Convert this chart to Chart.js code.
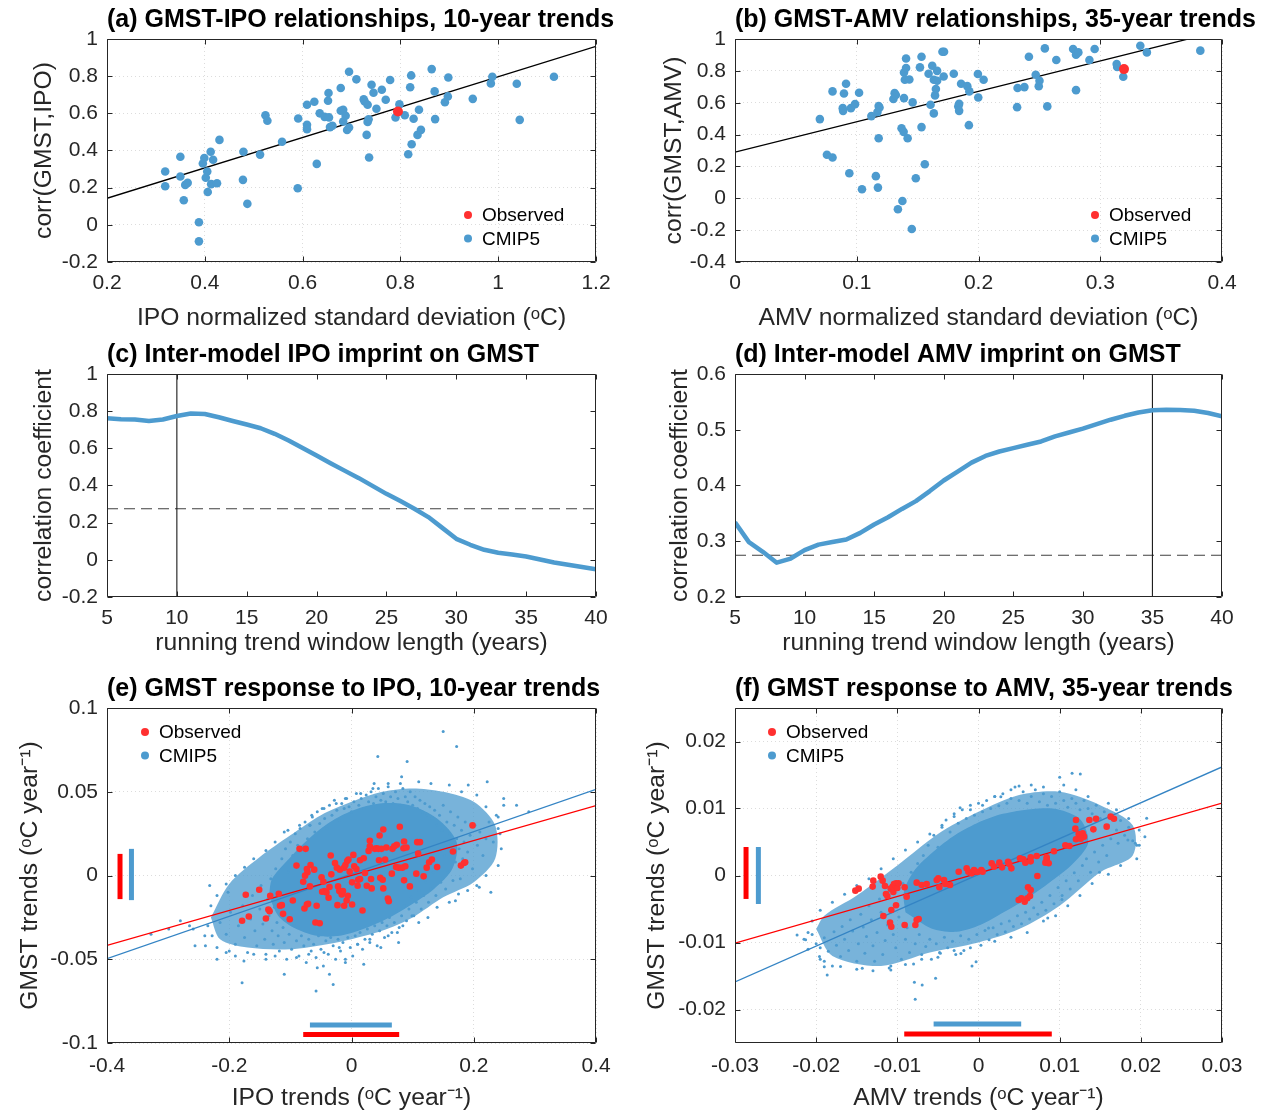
<!DOCTYPE html>
<html><head><meta charset="utf-8">
<script src="https://cdn.jsdelivr.net/npm/chart.js@4.4.1/dist/chart.umd.min.js"></script>
<style>
html,body{margin:0;padding:0;background:#fff;}
body{position:relative;width:1271px;height:1116px;overflow:hidden;}
</style>
</head><body>
<script>
// ===================== DATA =====================
// (a) GMST-IPO relationships, 10-year trends: [IPO normalized std, corr(GMST,IPO)]
const ipoStdCorrModels = [[0.319,0.287],[0.319,0.208],[0.350,0.366],[0.350,0.260],[0.357,0.132],[0.360,0.215],[0.365,0.226],[0.388,0.014],[0.388,-0.089],[0.396,0.330],[0.399,0.360],[0.402,0.253],[0.405,0.287],[0.406,0.177],[0.412,0.393],[0.413,0.219],[0.417,0.350],[0.425,0.224],[0.430,0.457],[0.479,0.393],[0.478,0.242],[0.487,0.113],[0.513,0.378],[0.524,0.590],[0.528,0.560],[0.558,0.447],[0.590,0.197],[0.591,0.572],[0.609,0.646],[0.609,0.538],[0.609,0.515],[0.624,0.662],[0.629,0.328],[0.635,0.600],[0.645,0.581],[0.652,0.668],[0.653,0.709],[0.654,0.578],[0.656,0.526],[0.661,0.533],[0.678,0.736],[0.678,0.614],[0.683,0.619],[0.683,0.556],[0.688,0.587],[0.691,0.510],[0.695,0.524],[0.695,0.824],[0.710,0.783],[0.725,0.675],[0.727,0.664],[0.731,0.484],[0.733,0.554],[0.735,0.568],[0.733,0.646],[0.736,0.362],[0.741,0.754],[0.745,0.711],[0.751,0.625],[0.762,0.727],[0.770,0.673],[0.779,0.779],[0.790,0.578],[0.798,0.648],[0.809,0.590],[0.816,0.380],[0.820,0.740],[0.822,0.804],[0.823,0.434],[0.827,0.571],[0.835,0.484],[0.838,0.619],[0.842,0.511],[0.864,0.838],[0.870,0.718],[0.871,0.569],[0.891,0.660],[0.897,0.691],[0.898,0.793],[0.948,0.678],[0.985,0.761],[0.988,0.797],[1.038,0.759],[1.044,0.565],[1.114,0.797]];
const ipoStdCorrObserved = [[0.795,0.610]];
const ipoStdFit = [[0.2,0.143],[1.2,0.960]];

// (b) GMST-AMV relationships, 35-year trends
const amvStdCorrModels = [[0.0697,0.497],[0.0755,0.273],[0.0801,0.256],[0.0801,0.671],[0.0885,0.566],[0.0888,0.549],[0.0895,0.658],[0.0912,0.719],[0.0939,0.157],[0.0952,0.566],[0.0986,0.591],[0.1019,0.663],[0.1043,0.057],[0.112,0.516],[0.1157,0.139],[0.117,0.541],[0.118,0.579],[0.118,0.377],[0.1174,0.067],[0.1187,0.570],[0.1301,0.623],[0.1311,0.660],[0.1321,0.648],[0.1338,-0.069],[0.1368,0.440],[0.1375,-0.017],[0.1388,0.629],[0.1385,0.417],[0.1388,0.790],[0.1395,0.744],[0.1405,0.878],[0.1405,0.818],[0.1418,0.377],[0.1432,0.746],[0.1452,-0.193],[0.1459,0.602],[0.1485,0.126],[0.1519,0.822],[0.1532,0.889],[0.1532,0.447],[0.1559,0.214],[0.159,0.782],[0.1606,0.587],[0.162,0.832],[0.1633,0.744],[0.1633,0.533],[0.1643,0.646],[0.165,0.686],[0.166,0.800],[0.166,0.738],[0.1704,0.920],[0.1714,0.765],[0.1717,0.920],[0.1797,0.782],[0.1834,0.577],[0.1841,0.593],[0.1841,0.549],[0.1857,0.719],[0.1908,0.704],[0.1921,0.459],[0.1925,0.671],[0.1995,0.780],[0.1998,0.633],[0.2042,0.744],[0.2317,0.572],[0.2321,0.692],[0.2377,0.698],[0.2414,0.889],[0.247,0.776],[0.2495,0.704],[0.2501,0.738],[0.2545,0.941],[0.2565,0.577],[0.2639,0.868],[0.2777,0.937],[0.2801,0.679],[0.2801,0.901],[0.282,0.916],[0.2911,0.868],[0.2954,0.937],[0.3135,0.843],[0.3139,0.824],[0.3189,0.763],[0.3329,0.958],[0.3383,0.916],[0.3822,0.927]];
const amvStdCorrObserved = [[0.3195,0.811]];
const amvStdFit = [[0,0.290],[0.4,1.053]];

// (c), (d) inter-model correlation vs running trend window length
const windowLengths = [5,6,7,8,9,10,11,12,13,14,15,16,17,18,19,20,21,22,23,24,25,26,27,28,29,30,31,32,33,34,35,36,37,38,39,40];
const ipoImprint = [0.762,0.756,0.755,0.747,0.755,0.774,0.787,0.785,0.767,0.747,0.728,0.708,0.678,0.642,0.602,0.561,0.520,0.480,0.441,0.398,0.355,0.316,0.275,0.230,0.172,0.113,0.081,0.054,0.038,0.029,0.018,0.002,-0.014,-0.026,-0.039,-0.051];
const amvImprint = [0.334,0.2985,0.281,0.2615,0.269,0.284,0.294,0.2985,0.303,0.315,0.330,0.343,0.358,0.372,0.390,0.409,0.425,0.441,0.453,0.461,0.467,0.473,0.479,0.488,0.495,0.502,0.510,0.518,0.525,0.531,0.535,0.536,0.5355,0.534,0.530,0.524];
const significanceLevel = 0.275;
const ipoChosenWindow = 10;
const amvChosenWindow = 35;

// (e) GMST response to IPO, 10-year trends: [IPO trend, GMST trend]
const ipoTrendObserved = [[-0.179,-0.027],[-0.173,-0.0115],[-0.168,-0.0245],[-0.151,-0.0085],[-0.140,-0.0257],[-0.136,-0.0203],[-0.134,-0.0213],[-0.133,-0.0121],[-0.119,-0.0109],[-0.117,-0.0181],[-0.114,-0.0177],[-0.112,-0.0229],[-0.101,-0.0261],[-0.096,-0.0149],[-0.090,0.0059],[-0.085,0.0159],[-0.079,-0.0037],[-0.077,-0.0197],[-0.075,0.0159],[-0.073,-0.0173],[-0.071,-0.0169],[-0.072,0.0019],[-0.076,-0.0001],[-0.068,-0.0065],[-0.067,0.0063],[-0.073,0.0039],[-0.061,0.0035],[-0.059,-0.0281],[-0.057,-0.0181],[-0.052,-0.0285],[-0.049,-0.0011],[-0.048,-0.0097],[-0.046,-0.0037],[-0.044,-0.0093],[-0.041,-0.0101],[-0.0375,-0.0133],[-0.036,-0.0069],[-0.034,0.0119],[-0.033,0.0007],[-0.027,0.0075],[-0.024,0.0047],[-0.023,-0.0177],[-0.022,-0.0065],[-0.020,-0.0093],[-0.019,0.0035],[-0.016,-0.0113],[-0.014,-0.0093],[-0.012,0.0047],[-0.012,-0.0181],[-0.010,0.0063],[-0.008,-0.0149],[-0.007,0.0087],[-0.006,-0.0121],[-0.005,0.0095],[-0.003,0.0023],[0.001,-0.0173],[0.003,0.0123],[0.001,-0.0041],[0.0045,0.0055],[0.008,0.0039],[0.010,-0.0061],[0.011,-0.0025],[0.014,0.0091],[0.014,-0.0021],[0.018,-0.0209],[0.020,0.0103],[0.022,0.0015],[0.025,-0.0061],[0.028,0.0147],[0.030,0.0207],[0.030,0.0175],[0.032,-0.0021],[0.033,-0.0077],[0.038,0.0159],[0.041,0.0163],[0.044,0.0159],[0.045,0.0091],[0.046,0.0239],[0.047,-0.0013],[0.049,0.0159],[0.051,-0.0025],[0.052,0.0275],[0.052,-0.0077],[0.055,0.0095],[0.057,0.0167],[0.0595,-0.0137],[0.061,-0.0153],[0.066,0.0011],[0.067,0.0159],[0.070,0.0175],[0.073,0.0051],[0.074,0.0183],[0.077,0.0047],[0.079,0.0291],[0.083,0.0047],[0.085,0.0163],[0.086,-0.0029],[0.086,0.0203],[0.088,0.0055],[0.090,0.0167],[0.0955,-0.0065],[0.106,0.0011],[0.1075,0.0199],[0.109,0.0131],[0.112,0.0199],[0.118,-0.0005],[0.123,0.0047],[0.127,0.0079],[0.1315,0.0095],[0.140,0.0051],[0.166,0.0143],[0.179,0.0059],[0.184,0.0075],[0.186,0.0079],[0.198,0.0299]];
const ipoTrendModels = [[-0.215,-0.028],[-0.205,-0.035],[-0.198,-0.022],[-0.19,-0.041],[-0.185,-0.03],[-0.178,-0.018],[-0.175,-0.037],[-0.17,-0.046],[-0.165,-0.026],[-0.162,-0.012],[-0.158,-0.033],[-0.155,-0.042],[-0.15,-0.02],[-0.148,-0.006],[-0.145,-0.029],[-0.142,-0.038],[-0.14,-0.047],[-0.137,-0.014],[-0.135,-0.024],[-0.132,-0.002],[-0.13,-0.033],[-0.128,-0.041],[-0.126,-0.019],[-0.124,0.004],[-0.122,-0.028],[-0.12,-0.036],[-0.118,-0.045],[-0.116,-0.01],[-0.114,0.01],[-0.112,-0.031],[-0.11,-0.04],[-0.108,0.016],[-0.106,-0.05],[-0.104,0.002],[-0.102,-0.035],[-0.1,0.02],[-0.098,-0.044],[-0.096,0.012],[-0.094,-0.03],[-0.092,0.025],[-0.09,-0.039],[-0.088,0.018],[-0.086,-0.048],[-0.084,0.028],[-0.082,-0.036],[-0.078,-0.042],[-0.076,0.032],[-0.074,-0.052],[-0.072,0.022],[-0.07,-0.038],[-0.068,0.03],[-0.066,-0.045],[-0.064,0.035],[-0.062,-0.041],[-0.06,0.026],[-0.058,-0.049],[-0.056,0.038],[-0.054,-0.036],[-0.052,0.031],[-0.05,-0.044],[-0.048,0.04],[-0.046,-0.054],[-0.044,0.034],[-0.042,-0.039],[-0.04,0.028],[-0.038,-0.047],[-0.036,0.042],[-0.034,-0.037],[-0.032,0.036],[-0.03,-0.042],[-0.028,0.045],[-0.026,-0.05],[-0.024,0.039],[-0.022,-0.038],[-0.02,0.033],[-0.018,-0.045],[-0.016,0.043],[-0.014,-0.04],[-0.012,0.04],[-0.01,-0.052],[-0.008,0.046],[-0.006,-0.037],[-0.004,0.041],[-0.002,-0.043],[0,0.038],[0.002,-0.048],[0.004,0.044],[0.006,-0.036],[0.008,0.049],[0.01,-0.041],[0.012,0.042],[0.014,-0.034],[0.016,0.046],[0.018,-0.044],[0.02,0.04],[0.022,-0.038],[0.024,0.048],[0.026,-0.032],[0.028,0.044],[0.03,-0.04],[0.032,0.05],[0.034,-0.035],[0.036,0.043],[0.038,-0.03],[0.04,0.047],[0.042,-0.042],[0.044,0.052],[0.046,-0.033],[0.048,0.045],[0.05,-0.028],[0.052,0.049],[0.054,-0.037],[0.056,0.044],[0.058,-0.03],[0.06,0.053],[0.062,-0.025],[0.064,0.047],[0.066,-0.034],[0.068,0.043],[0.07,-0.028],[0.072,0.05],[0.074,-0.021],[0.076,0.046],[0.078,-0.031],[0.08,0.042],[0.082,-0.024],[0.084,0.052],[0.086,-0.018],[0.088,0.047],[0.09,-0.027],[0.092,0.044],[0.094,-0.02],[0.096,0.05],[0.098,-0.013],[0.1,0.042],[0.102,-0.024],[0.104,0.047],[0.106,-0.016],[0.108,0.04],[0.11,-0.009],[0.112,0.045],[0.114,-0.02],[0.116,0.038],[0.118,-0.012],[0.12,0.043],[0.122,-0.004],[0.124,0.036],[0.126,-0.016],[0.128,0.041],[0.13,-0.008],[0.132,0.034],[0.134,0.002],[0.136,0.039],[0.138,-0.012],[0.14,0.03],[0.142,0.006],[0.144,0.036],[0.146,-0.004],[0.148,0.027],[0.15,0.042],[0.152,0.012],[0.154,-0.008],[0.156,0.032],[0.158,0.002],[0.16,0.025],[0.162,0.038],[0.164,0.014],[0.166,-0.003],[0.168,0.03],[0.17,0.008],[0.172,0.022],[0.174,0.035],[0.176,0.016],[0.178,-0.002],[0.18,0.027],[0.182,0.01],[0.184,0.02],[0.186,0.032],[0.19,0.014],[0.194,0.024],[0.198,0.004],[0.202,0.03],[0.206,0.018],[0.21,0.026],[0.215,0.012],[0.22,0.022],[0.225,0.032],[0.232,0.02],[0.24,0.028],
[-0.235,-0.03],[-0.228,-0.036],[-0.22,-0.043],[-0.205,-0.046],[-0.19,-0.048],[-0.16,-0.047],[-0.14,-0.05],[-0.125,-0.048],[-0.09,-0.049],[-0.07,-0.047],[-0.045,-0.046],[-0.02,-0.043],[0.01,-0.041],[0.03,-0.038],[0.06,-0.036],[0.075,-0.034],[0.11,-0.028],[0.125,-0.025],[0.14,-0.019],[0.16,-0.016],[0.175,-0.011],[0.19,-0.009],[0.205,-0.006],[0.22,0.0],[0.24,0.006],[0.245,0.016],[0.243,0.025],[0.24,0.035],[0.22,0.041],[0.205,0.048],[0.18,0.05],[0.16,0.054],[0.13,0.055],[0.11,0.056],[0.08,0.055],[0.06,0.055],[0.035,0.052],[0.015,0.049],[-0.01,0.046],[-0.025,0.043],[-0.045,0.04],[-0.065,0.036],[-0.085,0.03],[-0.11,0.026],[-0.125,0.02],[-0.14,0.015],[-0.16,0.01],[-0.175,0.005],[-0.19,0.0],[-0.205,-0.005],[-0.22,-0.012],[-0.23,-0.018],
[0.150,0.086],[0.172,0.077],[0.043,0.071],[0.091,0.068],[0.082,0.059],[0.037,0.055],[0.191,0.054],[0.222,0.056],[0.249,0.046],[0.27,0.042],[0.249,0.042],[0.29,0.038],[0.237,0.036],[0.209,-0.007],[0.228,-0.01],[0.17,-0.015],[-0.232,-0.006],[-0.202,-0.01],[-0.259,-0.032],[-0.239,-0.042],[-0.256,-0.042],[-0.176,-0.051],[-0.179,-0.064],[-0.11,-0.059],[-0.058,-0.069],[-0.036,-0.059],[-0.03,-0.065],[-0.01,-0.05],[0.02,-0.053],[-0.056,-0.055],[0.077,-0.04],[0.048,-0.043],[-0.104,0.027],[-0.068,0.03],[0.099,-0.024],[0.084,-0.03],[-0.299,-0.032],[-0.328,-0.035],[-0.28,-0.027],[-0.22,-0.05],[-0.2,-0.045],[-0.24,-0.036],[-0.265,-0.03]];
// outlines of the saturated (overlapping-dot) core and the moderately dense halo of the CMIP5 cloud
const ipoTrendModelCore = [[-0.135,-0.012],[-0.12,-0.024],[-0.095,-0.031],[-0.057,-0.036],[-0.019,-0.036],[0.019,-0.032],[0.057,-0.026],[0.095,-0.018],[0.135,-0.008],[0.165,0.004],[0.172,0.02],[0.14,0.034],[0.095,0.042],[0.046,0.043],[0.003,0.039],[-0.035,0.032],[-0.07,0.022],[-0.105,0.009],[-0.13,-0.002],[-0.135,-0.012]];
const ipoTrendModelHalo = [[-0.23,-0.025],[-0.215,-0.038],[-0.17,-0.043],[-0.1,-0.044],[-0.04,-0.041],[0,-0.038],[0.05,-0.033],[0.1,-0.025],[0.15,-0.013],[0.2,-0.004],[0.235,0.01],[0.235,0.03],[0.2,0.044],[0.15,0.05],[0.1,0.052],[0.05,0.05],[0,0.044],[-0.05,0.036],[-0.1,0.024],[-0.15,0.011],[-0.2,-0.005],[-0.23,-0.025]];
const ipoFitModels = [[-0.4,-0.0496],[0.4,0.0514]];
const ipoFitObserved = [[-0.4,-0.0417],[0.4,0.0417]];
const ipoSpreadObserved = [-0.079,0.078];
const ipoSpreadModels = [-0.068,0.066];
const gmstSpreadObservedE = [-0.0141,0.0129];
const gmstSpreadModelsE = [-0.0147,0.0159];

// (f) GMST response to AMV, 35-year trends: [AMV trend, GMST trend]
const amvTrendObserved = [[-0.01517,-0.00226],[-0.01476,-0.00196],[-0.01296,-0.00077],[-0.01304,-0.00166],[-0.01205,-0.00017],[-0.01181,-0.00077],[-0.01152,-0.00157],[-0.0114,-0.00276],[-0.01123,-0.00306],[-0.01082,-0.00196],[-0.01057,-0.00166],[-0.01049,-0.00246],[-0.01041,-0.00127],[-0.01016,-0.00117],[-0.01,-0.00186],[-0.00984,-0.00117],[-0.0091,-0.00176],[-0.00885,-0.00316],[-0.01016,-0.00445],[-0.01074,-0.00515],[-0.01172,-0.00604],[-0.0109,-0.00704],[-0.01074,-0.00764],[-0.0091,-0.00739],[-0.00778,-0.00739],[-0.00762,-0.00664],[-0.00737,-0.00649],[-0.00762,-0.00107],[-0.007,-0.00142],[-0.00639,-0.00127],[-0.00515,-0.00067],[-0.00495,-0.00042],[-0.00482,-0.00176],[-0.00425,-0.00067],[-0.00409,-0.00127],[-0.00351,-0.00142],[-0.00244,0.00057],[-0.00146,0.00107],[-0.00125,0.00057],[-0.00084,0.00032],[-0.00055,0.00082],[-0.00014,0.00052],[0.00035,0.00082],[0.00051,0.00057],[0.00162,0.00182],[0.00191,0.00132],[0.00257,0.00192],[0.0029,0.00122],[0.00364,0.00206],[0.0038,0.00172],[0.00405,0.00107],[0.00511,0.00256],[0.00552,0.00241],[0.00577,0.00192],[0.00643,0.00271],[0.00643,0.00211],[0.00717,0.00291],[0.00725,-0.00007],[0.00824,0.00192],[0.0084,0.00241],[0.00865,0.00182],[0.0084,0.00271],[0.0093,0.00361],[0.0107,0.0045],[0.01119,0.0044],[0.01193,0.00699],[0.01201,0.0054],[0.01234,0.00619],[0.01283,0.00629],[0.013,0.0058],[0.01259,0.0055],[0.01366,0.00828],[0.01415,0.00689],[0.01448,0.00848],[0.01579,0.00729],[0.01628,0.00878],[0.01669,0.00848],[0.0061,-0.00176],[0.00643,-0.00216],[0.00495,-0.00365],[0.00528,-0.0034],[0.00569,-0.0039],[0.00602,-0.0034],[0.00635,-0.00306],[0.01201,0.00828]];
const amvTrendModels = [[-0.0215,-0.0095],[-0.021,-0.011],[-0.0205,-0.0088],[-0.02,-0.0102],[-0.0195,-0.0125],[-0.019,-0.0093],[-0.0185,-0.0113],[-0.018,-0.0135],[-0.0178,-0.0084],[-0.0175,-0.0104],[-0.017,-0.0121],[-0.0168,-0.0076],[-0.0165,-0.0095],[-0.016,-0.0112],[-0.0158,-0.0066],[-0.0155,-0.0083],[-0.015,-0.0128],[-0.0148,-0.0102],[-0.0145,-0.0058],[-0.0142,-0.0077],[-0.014,-0.0116],[-0.0138,-0.0091],[-0.0135,-0.0045],[-0.0132,-0.0066],[-0.013,-0.0105],[-0.0128,-0.0128],[-0.0125,-0.0085],[-0.0122,-0.0035],[-0.012,-0.0055],[-0.0118,-0.0118],[-0.0115,-0.0097],[-0.0112,-0.0074],[-0.011,-0.0024],[-0.0108,-0.0135],[-0.0105,-0.0088],[-0.0102,-0.0108],[-0.01,-0.0045],[-0.0098,-0.0062],[-0.0095,-0.0125],[-0.0093,-0.0012],[-0.009,-0.0095],[-0.0088,-0.0078],[-0.0085,-0.0115],[-0.0083,0.0005],[-0.008,-0.0132],[-0.0078,-0.0102],[-0.0075,0.0018],[-0.0073,-0.0088],[-0.007,-0.0118],[-0.0068,0.003],[-0.0065,-0.0106],[-0.0062,0.0045],[-0.006,-0.0095],[-0.0058,-0.0125],[-0.0055,0.006],[-0.0052,-0.0102],[-0.005,0.0042],[-0.0048,-0.0115],[-0.0045,0.0072],[-0.0042,-0.0092],[-0.004,0.0083],[-0.0038,-0.0108],[-0.0035,0.0065],[-0.0032,-0.0098],[-0.003,0.0092],[-0.0028,-0.0118],[-0.0025,0.0078],[-0.0022,-0.009],[-0.002,0.0098],[-0.0018,-0.0112],[-0.0015,0.0085],[-0.0012,-0.0095],[-0.001,0.0105],[-0.0008,-0.0135],[-0.0005,0.009],[-0.0002,-0.0088],[0,0.0108],[0.0003,-0.0104],[0.0005,0.0095],[0.0008,-0.0082],[0.001,0.0112],[0.0013,-0.0096],[0.0015,0.01],[0.0018,-0.0078],[0.002,0.0118],[0.0023,-0.0088],[0.0025,0.0104],[0.0028,-0.0072],[0.003,0.0122],[0.0033,-0.0084],[0.0035,0.0108],[0.0038,-0.0068],[0.004,0.0115],[0.0043,-0.0076],[0.0045,0.0132],[0.0048,-0.006],[0.005,0.0112],[0.0053,-0.0072],[0.0055,0.0125],[0.0058,-0.0055],[0.006,0.0108],[0.0063,-0.0065],[0.0065,0.0118],[0.0068,-0.0048],[0.007,0.0128],[0.0073,-0.0058],[0.0075,0.011],[0.0078,-0.004],[0.008,0.0122],[0.0083,-0.0052],[0.0085,0.0105],[0.0088,-0.003],[0.009,0.0118],[0.0093,-0.0042],[0.0095,0.0108],[0.0098,-0.0018],[0.01,0.0125],[0.0103,-0.003],[0.0105,0.0112],[0.0108,-0.0008],[0.011,0.0102],[0.0113,-0.002],[0.0115,0.0115],[0.0118,0.0004],[0.012,0.0108],[0.0123,-0.0008],[0.0125,0.0098],[0.0128,0.0015],[0.013,0.0112],[0.0133,0.0025],[0.0135,0.01],[0.0138,0.0005],[0.014,0.0092],[0.0143,0.0035],[0.0145,0.0105],[0.0148,0.002],[0.015,0.0085],[0.0153,0.0045],[0.0155,0.0095],[0.0158,0.003],[0.016,0.0075],[0.0163,0.0055],[0.0165,0.009],[0.017,0.0068],[0.0172,0.0048],[0.0175,0.0082],[0.018,0.006],[0.0185,0.0072],[0.019,0.0052],[0.0195,0.0045],[0.0205,0.0058],
[-0.0205,-0.0068],[-0.021,-0.0085],[-0.0195,-0.0108],[-0.019,-0.0128],[-0.017,-0.0136],[-0.015,-0.014],[-0.013,-0.0142],[-0.011,-0.0138],[-0.009,-0.0133],[-0.007,-0.0125],[-0.005,-0.0122],[-0.003,-0.0112],[-0.001,-0.0108],[0.002,-0.0098],[0.004,-0.0092],[0.006,-0.0085],[0.008,-0.0068],[0.0095,-0.006],[0.011,-0.0045],[0.0125,-0.003],[0.014,-0.0012],[0.016,0.0002],[0.0175,0.0015],[0.0195,0.0025],[0.0198,0.0045],[0.0198,0.0068],[0.0185,0.0085],[0.017,0.0098],[0.016,0.0108],[0.0135,0.0118],[0.012,0.0128],[0.0105,0.0135],[0.008,0.0132],[0.0065,0.0135],[0.004,0.0128],[0.002,0.0118],[0.0005,0.0105],[-0.001,0.0098],[-0.003,0.0088],[-0.0045,0.0075],[-0.006,0.0062],[-0.0075,0.005],[-0.009,0.0038],[-0.0105,0.0025],[-0.012,0.001],[-0.0135,-0.0005],[-0.015,-0.0015],[-0.0165,-0.0028],[-0.018,-0.004],[-0.0195,-0.0052],
[0.01,0.01465],[0.01153,0.01525],[0.01254,0.01515],[0.005,0.01336],[0.00275,0.01177],[-0.00227,0.01012],[-0.0079,-0.01594],[-0.0078,-0.01848],[-0.00694,-0.01634],[-0.00529,-0.01535],[-0.01864,-0.01485],[-0.019,-0.01361],[-0.02235,-0.00888],[-0.0213,-0.0096],[0.01932,0.0048],[0.02072,0.00853],[0.0184,0.0053],[0.0149,0.0005],[0.01028,-0.0036],[-0.0003,-0.01286],[-0.00217,-0.01165],[0.00124,-0.00785],[0.00853,-0.00635],[-0.0047,-0.0116],[-0.0108,-0.0141],[-0.01432,-0.01385],[-0.01959,-0.0121]];
const amvTrendModelCore = [[-0.009,-0.0055],[-0.0058,-0.0079],[-0.0027,-0.0084],[0.0002,-0.0074],[0.0031,-0.0055],[0.0059,-0.0035],[0.0088,-0.001],[0.0115,0.0016],[0.0135,0.0048],[0.0126,0.0083],[0.0097,0.0099],[0.0065,0.0099],[0.003,0.0092],[-0.0002,0.0078],[-0.0032,0.0058],[-0.0059,0.0032],[-0.008,0.0006],[-0.0092,-0.0025],[-0.009,-0.0055]];
const amvTrendModelHalo = [[-0.02,-0.008],[-0.018,-0.012],[-0.012,-0.0135],[-0.006,-0.0115],[0,-0.01],[0.005,-0.008],[0.01,-0.0045],[0.015,0.0005],[0.019,0.003],[0.019,0.0075],[0.015,0.0105],[0.01,0.0125],[0.005,0.012],[0,0.0095],[-0.005,0.0062],[-0.01,0.0015],[-0.015,-0.003],[-0.019,-0.006],[-0.02,-0.008]];
const amvFitModels = [[-0.03,-0.0159],[0.03,0.0162]];
const amvFitObserved = [[-0.03,-0.0101],[0.03,0.0108]];
const amvSpreadObserved = [-0.00915,0.00903];
const amvSpreadModels = [-0.00553,0.00526];
const gmstSpreadObservedF = [-0.0035,0.00425];
const gmstSpreadModelsF = [-0.00425,0.00425];

// tick values
const ticksAx = [0.2,0.4,0.6,0.8,1,1.2], ticksAy = [-0.2,0,0.2,0.4,0.6,0.8,1];
const ticksBx = [0,0.1,0.2,0.3,0.4], ticksBy = [-0.4,-0.2,0,0.2,0.4,0.6,0.8,1];
const ticksCx = [5,10,15,20,25,30,35,40], ticksCy = [-0.2,0,0.2,0.4,0.6,0.8,1];
const ticksDy = [0.2,0.3,0.4,0.5,0.6];
const ticksEx = [-0.4,-0.2,0,0.2,0.4], ticksEy = [-0.1,-0.05,0,0.05,0.1];
const ticksFx = [-0.03,-0.02,-0.01,0,0.01,0.02,0.03], ticksFy = [-0.02,-0.01,0,0.01,0.02];

// ===================== STYLE / HELPERS =====================
const FONT = "'Liberation Sans', Arial, Helvetica, sans-serif";
const BLUE = 'rgb(77,155,207)';
const BLUE_HALO = 'rgba(77,155,207,0.76)';
const BLUE_LINE = 'rgb(52,132,196)';
const RED_DOT = 'rgb(255,48,48)';
const RED = 'rgb(255,0,0)';
const INK = '#262626';

const pts = a => a.map(p => ({x: p[0], y: p[1]}));
const fmt = v => String(Math.round(v * 1e6) / 1e6);

const dots = (data, color, r, order) => ({data: pts(data), backgroundColor: color, borderColor: color,
  pointBackgroundColor: color, pointBorderColor: color, pointBorderWidth: 0, pointRadius: r, pointHoverRadius: r, order});
const seg = (data, color, w, order, dash) => ({type: 'line', data: pts(data), borderColor: color, borderWidth: w,
  borderDash: dash || [], pointRadius: 0, pointHoverRadius: 0, fill: false, tension: 0, order, borderCapStyle: 'butt', borderJoinStyle: 'round'});
const area = (data, color, order) => ({type: 'line', data: pts(data), borderWidth: 0, borderColor: 'rgba(0,0,0,0)',
  backgroundColor: color, fill: 'shape', pointRadius: 0, pointHoverRadius: 0, tension: 0.3, order});

const panelTitle = {id: 'panelTitle', afterDraw(chart, args, o) {
  if (!o || !o.text) return;
  const c = chart.ctx, a = chart.chartArea;
  c.save(); c.font = `bold 25px ${FONT}`; c.fillStyle = '#000'; c.textAlign = 'left'; c.textBaseline = 'alphabetic';
  c.fillText(o.text, a.left, a.top - 12); c.restore();
}};
const cornerLegend = {id: 'cornerLegend', afterDraw(chart, args, o) {
  if (!o || !o.items) return;
  const c = chart.ctx, a = chart.chartArea;
  c.save(); c.font = `19px ${FONT}`; c.textAlign = 'left'; c.textBaseline = 'middle';
  o.items.forEach((it, i) => {
    const x = a.left + o.x, y = a.top + o.y + i * o.dy;
    c.fillStyle = it.color; c.beginPath(); c.arc(x, y, 4, 0, Math.PI * 2); c.fill();
    c.fillStyle = '#000'; c.fillText(it.text, x + 14, y + 1);
  });
  c.restore();
}};
const matBox = {id: 'matBox', afterDraw(chart) {
  const c = chart.ctx, a = chart.chartArea, sx = chart.scales.x, sy = chart.scales.y;
  const L = Math.round(a.left) + 0.5, R = Math.round(a.right) - 0.5, T = Math.round(a.top) + 0.5, B = Math.round(a.bottom) - 0.5;
  c.save(); c.strokeStyle = INK; c.lineWidth = 1; c.beginPath(); c.rect(L, T, R - L, B - T);
  sx.ticks.forEach(t => { const x = Math.round(sx.getPixelForValue(t.value)) + 0.5; c.moveTo(x, B); c.lineTo(x, B - 5); c.moveTo(x, T); c.lineTo(x, T + 5); });
  sy.ticks.forEach(t => { const y = Math.round(sy.getPixelForValue(t.value)) + 0.5; c.moveTo(L, y); c.lineTo(L + 5, y); c.moveTo(R, y); c.lineTo(R - 5, y); });
  c.stroke(); c.restore();
}};

function axis(min, max, ticks, title, pad, tpad, fit, grid) {
  return {
    type: 'linear', min, max,
    afterBuildTicks: s => { s.ticks = ticks.map(v => ({value: v})); },
    afterFit: fit,
    grid: {display: grid, drawTicks: false, color: 'rgba(38,38,38,0.16)', lineWidth: 1},
    border: {display: false, dash: [1, 3]},
    ticks: {padding: pad, color: INK, font: {family: FONT, size: 21}, maxRotation: 0, minRotation: 0, autoSkip: false, callback: v => fmt(v)},
    title: {display: true, text: title, color: INK, font: {family: FONT, size: 24.7}, padding: tpad}
  };
}

function makeChart(p) {
  const cv = document.createElement('canvas');
  cv.width = p.w; cv.height = p.h;
  cv.style.cssText = `position:absolute;left:${p.left}px;top:${p.top}px;width:${p.w}px;height:${p.h}px;`;
  document.body.appendChild(cv);
  const yW = p.L - p.left;
  return new Chart(cv, {
    type: 'scatter',
    data: {datasets: p.datasets},
    plugins: [panelTitle, cornerLegend, matBox],
    options: {
      responsive: false, animation: false, events: [], devicePixelRatio: 1,
      layout: {padding: {left: 0, top: 39, bottom: 0, right: p.w - (p.R - p.left)}},
      plugins: {legend: {display: false}, tooltip: {enabled: false}, title: {display: false},
        panelTitle: {text: p.title}, cornerLegend: p.legend || {}},
      scales: {
        x: axis(p.x.min, p.x.max, p.x.ticks, p.x.title, p.x.pad, {top: 0, bottom: 0}, s => { s.height = p.xH; }, p.grid),
        y: axis(p.y.min, p.y.max, p.y.ticks, p.y.title, 9, {top: p.yTitlePad, bottom: 0}, s => { s.width = yW; }, p.grid)
      }
    }
  });
}

const legendItems = [{text: 'Observed', color: RED_DOT}, {text: 'CMIP5', color: BLUE}];

// (a)
makeChart({left: 0, top: 0, w: 630, h: 333, L: 107, R: 596, xH: 71, yTitlePad: 29.3, grid: true,
  title: '(a) GMST-IPO relationships, 10-year trends',
  x: {min: 0.2, max: 1.2, ticks: ticksAx, title: 'IPO normalized standard deviation (\u1D52C)', pad: 8.5},
  y: {min: -0.2, max: 1, ticks: ticksAy, title: 'corr(GMST,IPO)'},
  legend: {x: 361, y: 176, dy: 23.5, items: legendItems},
  datasets: [dots(ipoStdCorrObserved, RED_DOT, 5, 0), dots(ipoStdCorrModels, BLUE, 4.3, 1), seg(ipoStdFit, '#000', 1.3, 2)]
});
// (b)
makeChart({left: 630, top: 0, w: 641, h: 333, L: 735, R: 1222, xH: 71, yTitlePad: 29.3, grid: true,
  title: '(b) GMST-AMV relationships, 35-year trends',
  x: {min: 0, max: 0.4, ticks: ticksBx, title: 'AMV normalized standard deviation (\u1D52C)', pad: 8.5},
  y: {min: -0.4, max: 1, ticks: ticksBy, title: 'corr(GMST,AMV)'},
  legend: {x: 360, y: 176, dy: 23.5, items: legendItems},
  datasets: [dots(amvStdCorrObserved, RED_DOT, 5, 0), dots(amvStdCorrModels, BLUE, 4.3, 1), seg(amvStdFit, '#000', 1.3, 2)]
});
// (c)
makeChart({left: 0, top: 335, w: 630, h: 323, L: 107, R: 596, xH: 61, yTitlePad: 29.3, grid: false,
  title: '(c) Inter-model IPO imprint on GMST',
  x: {min: 5, max: 40, ticks: ticksCx, title: 'running trend window length (years)', pad: 8.5},
  y: {min: -0.2, max: 1, ticks: ticksCy, title: 'correlation coefficient'},
  datasets: [seg(windowLengths.map((x, i) => [x, ipoImprint[i]]), BLUE, 4.5, 0),
    seg([[ipoChosenWindow, -0.2], [ipoChosenWindow, 1]], '#1a1a1a', 1.1, 1),
    seg([[5, significanceLevel], [40, significanceLevel]], '#404040', 1.1, 2, [11, 6])]
});
// (d)
makeChart({left: 630, top: 335, w: 641, h: 323, L: 735, R: 1222, xH: 61, yTitlePad: 35.3, grid: false,
  title: '(d) Inter-model AMV imprint on GMST',
  x: {min: 5, max: 40, ticks: ticksCx, title: 'running trend window length (years)', pad: 8.5},
  y: {min: 0.2, max: 0.6, ticks: ticksDy, title: 'correlation coefficient'},
  datasets: [seg(windowLengths.map((x, i) => [x, amvImprint[i]]), BLUE, 4.5, 0),
    seg([[amvChosenWindow, 0.2], [amvChosenWindow, 0.6]], '#1a1a1a', 1.1, 1),
    seg([[5, significanceLevel], [40, significanceLevel]], '#404040', 1.1, 2, [11, 6])]
});
// (e)
makeChart({left: 0, top: 669, w: 630, h: 444, L: 107, R: 596, xH: 70, yTitlePad: 15.3, grid: true,
  title: '(e) GMST response to IPO, 10-year trends',
  x: {min: -0.4, max: 0.4, ticks: ticksEx, title: 'IPO trends (\u1D52C year\u207B\u00B9)', pad: 10.4},
  y: {min: -0.1, max: 0.1, ticks: ticksEy, title: 'GMST trends (\u1D52C year\u207B\u00B9)'},
  legend: {x: 38, y: 24, dy: 23.5, items: legendItems},
  datasets: [
    seg([[-0.36, gmstSpreadModelsE[0]], [-0.36, gmstSpreadModelsE[1]]], BLUE, 5, 0),
    seg([[-0.3787, gmstSpreadObservedE[0]], [-0.3787, gmstSpreadObservedE[1]]], RED, 5, 0),
    seg([[ipoSpreadModels[0], -0.0892], [ipoSpreadModels[1], -0.0892]], BLUE, 5, 0),
    seg([[ipoSpreadObserved[0], -0.0949], [ipoSpreadObserved[1], -0.0949]], RED, 5, 0),
    dots(ipoTrendObserved, RED_DOT, 3.3, 1),
    seg(ipoFitObserved, RED, 1.3, 2),
    seg(ipoFitModels, BLUE_LINE, 1.3, 3),
    dots(ipoTrendModels, BLUE, 1.5, 4),
    area(ipoTrendModelCore, BLUE, 5),
    area(ipoTrendModelHalo, BLUE_HALO, 6)]
});
// (f)
makeChart({left: 630, top: 669, w: 641, h: 444, L: 735, R: 1222, xH: 70, yTitlePad: 12.3, grid: true,
  title: '(f) GMST response to AMV, 35-year trends',
  x: {min: -0.03, max: 0.03, ticks: ticksFx, title: 'AMV trends (\u1D52C year\u207B\u00B9)', pad: 10.4},
  y: {min: -0.025, max: 0.025, ticks: ticksFy, title: 'GMST trends (\u1D52C year\u207B\u00B9)'},
  legend: {x: 37, y: 24, dy: 23.5, items: legendItems},
  datasets: [
    seg([[-0.02712, gmstSpreadModelsF[0]], [-0.02712, gmstSpreadModelsF[1]]], BLUE, 5, 0),
    seg([[-0.02864, gmstSpreadObservedF[0]], [-0.02864, gmstSpreadObservedF[1]]], RED, 5, 0),
    seg([[amvSpreadModels[0], -0.02216], [amvSpreadModels[1], -0.02216]], BLUE, 5, 0),
    seg([[amvSpreadObserved[0], -0.02366], [amvSpreadObserved[1], -0.02366]], RED, 5, 0),
    dots(amvTrendObserved, RED_DOT, 3.3, 1),
    seg(amvFitObserved, RED, 1.3, 2),
    seg(amvFitModels, BLUE_LINE, 1.3, 3),
    dots(amvTrendModels, BLUE, 1.5, 4),
    area(amvTrendModelCore, BLUE, 5),
    area(amvTrendModelHalo, BLUE_HALO, 6)]
});
</script>
</body></html>
